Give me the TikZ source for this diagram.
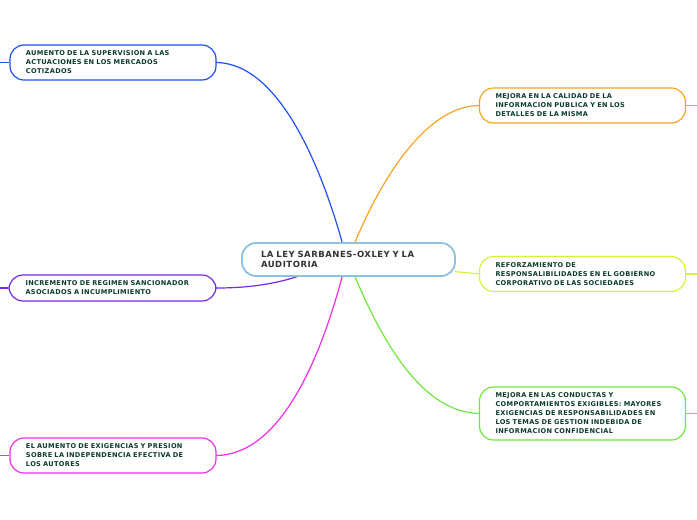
\documentclass[tikz,border=0pt]{standalone}
\usepackage{fontspec}
\setmainfont{DejaVu Sans}
\newfontfamily\ramafont{DejaVu Sans}[LetterSpace=5]
\newfontfamily\centrofont{DejaVu Sans}[LetterSpace=6]
\usetikzlibrary{calc}
\definecolor{tema}{RGB}{11,59,44}
\definecolor{cazul}{RGB}{30,80,240}
\definecolor{cnaranja}{RGB}{245,165,35}
\definecolor{ccentro}{RGB}{142,192,224}
\definecolor{cmorado}{RGB}{120,40,230}
\definecolor{camarillo}{RGB}{216,242,58}
\definecolor{cverde}{RGB}{110,232,60}
\definecolor{cmagenta}{RGB}{238,46,232}

\begin{document}
\begin{tikzpicture}[x=1pt,y=-1pt,
  idea/.style={draw,line width=1.2pt,fill=white,rounded corners=14pt,
    minimum width=206pt,inner xsep=16pt,inner ysep=6pt,
    text width=174pt,align=left,text=tema,
    font=\ramafont\fontsize{6.6}{9}\selectfont\bfseries},
  rama/.style={line width=1.2pt}]
\useasboundingbox (0,0) rectangle (697,520);
% branches from the central topic
\coordinate (raiz) at (348.5,259.5);
\draw[rama,cazul] ($(raiz)+(-6,-16)$) .. controls (322,170) and (280,63) .. (216,62.5);
\draw[rama,cnaranja] ($(raiz)+(6,-16)$) .. controls (385,170) and (430,105) .. (480,105.5);
\draw[rama,cmorado] ($(raiz)+(-48,16)$) .. controls (270,286) and (240,288) .. (216,288);
\draw[rama,camarillo] ($(raiz)+(106,12)$) -- (480,274);
\draw[rama,cverde] ($(raiz)+(6,16)$) .. controls (390,360) and (430,413) .. (480,413.5);
\draw[rama,cmagenta] ($(raiz)+(-6,16)$) .. controls (320,360) and (280,455) .. (216,455.5);
% central topic
\node[draw=ccentro,line width=1.8pt,fill=white,rounded corners=14pt,
  minimum width=213pt,minimum height=33pt,inner xsep=19pt,
  text width=175pt,align=left,text=black!80,
  font=\centrofont\fontsize{8.5}{10.5}\selectfont\bfseries] (ley) at (raiz)
  {LA LEY SARBANES-OXLEY Y LA\\AUDITORIA};
% left side
\node[idea,draw=cazul] (supervision) at (113,62.5)
  {AUMENTO DE LA SUPERVISION A LAS\\ACTUACIONES EN LOS MERCADOS\\COTIZADOS};
\node[idea,draw=cmorado,minimum width=207pt] (regimen) at (112.5,288)
  {INCREMENTO DE REGIMEN SANCIONADOR\\ASOCIADOS A INCUMPLIMIENTO};
\node[idea,draw=cmagenta] (presion) at (113,455.5)
  {EL AUMENTO DE EXIGENCIAS Y PRESION\\SOBRE LA INDEPENDENCIA EFECTIVA DE\\LOS AUTORES};
% right side
\node[idea,draw=cnaranja,minimum width=205pt] (calidad) at (582.5,105.5)
  {MEJORA EN LA CALIDAD DE LA\\INFORMACION PUBLICA Y EN LOS\\DETALLES DE LA MISMA};
\node[idea,draw=camarillo,minimum width=205pt] (gobierno) at (582.5,274)
  {REFORZAMIENTO DE\\RESPONSALIBILIDADES EN EL GOBIERNO\\CORPORATIVO DE LAS SOCIEDADES};
\node[idea,draw=cverde,minimum width=205pt] (conductas) at (582.5,413.5)
  {MEJORA EN LAS CONDUCTAS Y\\COMPORTAMIENTOS EXIGIBLES: MAYORES\\EXIGENCIAS DE RESPONSABILIDADES EN\\LOS TEMAS DE GESTION INDEBIDA DE\\INFORMACION CONFIDENCIAL};
% free ends of the stubs
\coordinate (finazul) at (0,62.5);
\coordinate (finmorado) at (0,288);
\coordinate (finmagenta) at (0,455.5);
\coordinate (finnaranja) at (697,105.5);
\coordinate (finamarillo) at (697,274);
\coordinate (finverde) at (697,413.5);
% stubs
\draw[rama,cazul] (supervision.west) -- (finazul);
\draw[rama,cmorado] (regimen.west) -- (finmorado);
\draw[rama,cmagenta] (presion.west) -- (finmagenta);
\draw[rama,cnaranja] (calidad.east) -- (finnaranja);
\draw[rama,camarillo] (gobierno.east) -- (finamarillo);
\draw[rama,cverde] (conductas.east) -- (finverde);
\end{tikzpicture}
\end{document}
